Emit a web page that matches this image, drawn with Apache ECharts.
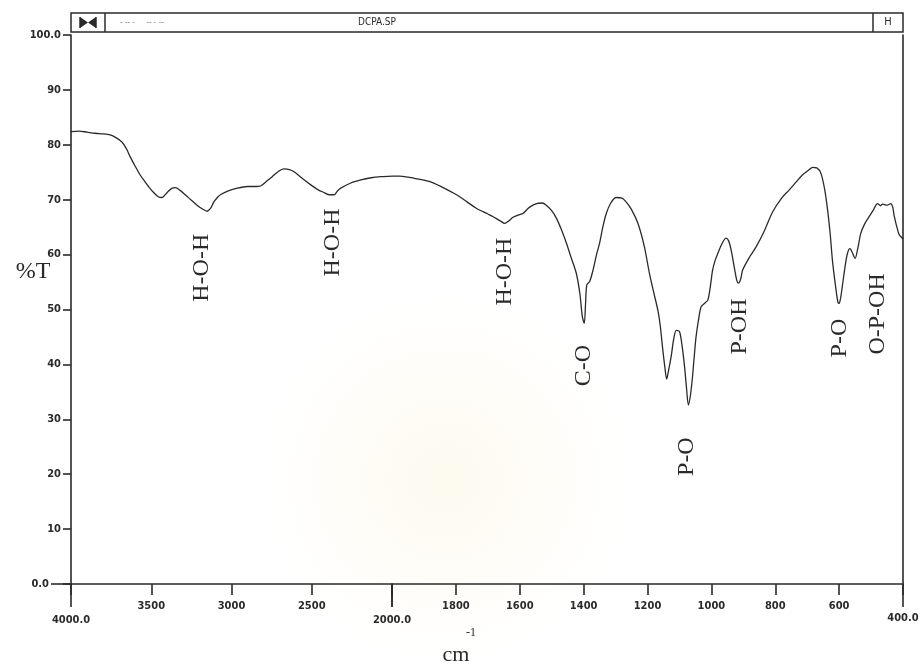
<!DOCTYPE html>
<html>
<head>
<meta charset="utf-8">
<title>DCPA.SP</title>
<script src="https://cdn.jsdelivr.net/npm/echarts@6/dist/echarts.min.js"></script>
<style>
  html, body { margin: 0; padding: 0; background: #ffffff; }
  #chart { width: 924px; height: 667px; }
</style>
</head>
<body>
<div id="chart"></div>
<script>
// IR transmission spectrum of DCPA, wavenumber (cm-1) vs %T
const wavenumbers = [
  4000, 3950, 3900, 3850, 3800, 3756, 3720, 3683, 3655, 3631, 3600, 3569, 3540, 3517, 3485,
  3454, 3435, 3423, 3395, 3370, 3350, 3320, 3288, 3250, 3215, 3180, 3152, 3131, 3110, 3085,
  3069, 3020, 2964, 2900, 2850, 2819, 2780, 2746, 2710, 2673, 2640, 2610, 2560, 2506, 2460,
  2423, 2390, 2360, 2340, 2319, 2260, 2194, 2130, 2069, 2000,
  1975, 1930, 1881, 1840, 1798, 1765, 1735, 1700, 1683, 1660, 1647, 1635, 1621, 1600, 1590,
  1570, 1548, 1530, 1517, 1500, 1485, 1470, 1454, 1440, 1423, 1412, 1404, 1398, 1394, 1390,
  1381, 1370, 1360, 1350, 1340, 1329, 1315, 1298, 1280, 1267, 1250, 1230, 1210, 1194, 1180,
  1167, 1160, 1152, 1145, 1140, 1135, 1126, 1118, 1110, 1100, 1092, 1084, 1078, 1072, 1066,
  1060, 1054, 1048, 1040, 1032, 1020, 1011, 1003, 996, 988, 980, 965, 954, 946, 938,
  928, 920, 915, 908, 902, 880, 860, 835, 808, 780, 756, 735, 715, 695, 683,
  670, 657, 645, 636, 628, 621, 612, 604, 600, 595, 590, 582, 574, 566, 558,
  550, 542, 532, 520, 506, 492, 480, 470, 464, 450, 438, 432, 428, 420, 412,
  407, 400
];
const transmittance = [
  82.4, 82.5, 82.3, 82.1, 82.0, 81.8, 81.3, 80.5, 79.3, 77.8, 76.1, 74.5, 73.3, 72.4, 71.3,
  70.5, 70.4, 70.6, 71.5, 72.1, 72.2, 71.7, 70.9, 69.9, 69.0, 68.3, 67.9, 68.4, 69.6, 70.5,
  70.9, 71.6, 72.1, 72.4, 72.4, 72.5, 73.4, 74.2, 75.1, 75.6, 75.5, 75.1, 73.9, 72.7, 71.8,
  71.3, 70.9, 70.9, 71.6, 72.1, 73.0, 73.6, 74.0, 74.2, 74.3,
  74.3, 73.9, 73.3, 72.2, 70.9, 69.6, 68.4, 67.4, 66.9, 66.1, 65.7, 66.1, 66.8, 67.3, 67.5,
  68.6, 69.3, 69.4, 69.0, 68.0, 66.6, 64.6, 62.1, 59.6, 56.6, 53.0, 48.7, 47.5, 51.0, 54.5,
  55.1, 57.3, 59.9, 62.1, 65.0, 67.5, 69.4, 70.4, 70.3, 69.6, 68.2, 65.7, 61.5, 56.6, 53.0,
  49.7, 47.0, 42.6, 39.2, 37.3, 38.6, 41.4, 44.6, 46.2, 46.0, 43.5, 39.6, 35.8, 32.6, 34.2,
  37.2, 41.2, 45.0, 48.2, 50.5, 51.2, 51.7, 54.3, 57.2, 59.0, 60.2, 62.2, 63.0, 62.5, 60.8,
  57.6, 55.2, 54.8, 55.6, 57.2, 59.6, 61.4, 64.2, 67.8, 70.3, 71.8, 73.2, 74.5, 75.4, 75.9,
  75.8, 74.8, 71.8, 68.1, 63.8, 59.0, 54.6, 51.4, 51.1, 52.2, 54.2, 57.6, 60.2, 61.1, 60.3,
  59.3, 61.0, 63.9, 65.6, 66.9, 68.2, 69.3, 68.9, 69.2, 69.0, 69.3, 68.6, 67.2, 65.2, 63.6,
  63.3, 62.8
];

// Band assignments: label text, wavenumber and %T of the label centre
const bandNames = ['H-O-H', 'H-O-H', 'H-O-H', 'C-O', 'P-O', 'P-OH', 'P-O', 'O-P-OH'];
const bandWavenumbers = [3188, 2371, 1647, 1400, 1077, 910, 598, 478];
const bandLabelT = [57.6, 62.2, 56.9, 39.8, 23.2, 46.9, 44.8, 49.2];

// Axis ticks: the abscissa changes scale at 2000 cm-1
const highRangeTicks = [2000, 4000];   // 4000 - 2000 section
const lowRangeTicks = [400, 2000];     // 2000 - 400 section
const highRangeStep = 500;
const lowRangeStep = 200;
const yTicks = [0, 100];
const yStep = 10;

const plotFont = "'DejaVu Sans Condensed', 'Liberation Sans Narrow', 'DejaVu Sans', sans-serif";
const serifFont = "'Liberation Serif', 'DejaVu Serif', serif";
const ink = '#2a2a2a';

const highData = [], lowData = [];
wavenumbers.forEach((w, i) => {
  if (w >= 2000) highData.push([w, transmittance[i]]);
  if (w <= 2000) lowData.push([w, transmittance[i]]);
});

const highMarks = [], lowMarks = [];
bandNames.forEach((n, i) => {
  const m = { name: n, coord: [bandWavenumbers[i], bandLabelT[i]] };
  (bandWavenumbers[i] >= 2000 ? highMarks : lowMarks).push(m);
});

const markStyle = {
  symbol: 'circle',
  symbolSize: 0,
  silent: true,
  label: {
    show: true,
    position: 'inside',
    rotate: 90,
    formatter: p => p.name,
    fontFamily: serifFont,
    fontSize: 24,
    color: ink
  }
};

const tickLabelStyle = { fontFamily: plotFont, fontWeight: 'bold', fontSize: 11, color: ink };
const lineStyle = { color: ink, width: 1.6 };

const chart = echarts.init(document.getElementById('chart'), null, { renderer: 'canvas' });

chart.setOption({
  backgroundColor: '#ffffff',
  animation: false,
  grid: [
    { left: 71, top: 35, width: 321, bottom: 83 },
    { left: 392, top: 35, width: 511, bottom: 83 }
  ],
  xAxis: [
    { // 4000-2000, short ticks
      type: 'value', gridIndex: 0, inverse: true,
      min: highRangeTicks[0], max: highRangeTicks[1], interval: highRangeStep,
      axisLine: { show: true, onZero: false, lineStyle },
      axisTick: { show: true, inside: false, length: 11, lineStyle },
      axisLabel: {
        ...tickLabelStyle, margin: 17,
        formatter: v => (v === highRangeTicks[0] || v === highRangeTicks[1]) ? '' : String(v)
      },
      splitLine: { show: false }
    },
    { // 4000-2000, long end ticks
      type: 'value', gridIndex: 0, inverse: true, position: 'bottom',
      min: highRangeTicks[0], max: highRangeTicks[1], interval: highRangeTicks[1] - highRangeTicks[0],
      axisLine: { show: false },
      axisTick: { show: true, length: 23, lineStyle },
      axisLabel: { ...tickLabelStyle, margin: 31, formatter: v => v.toFixed(1) },
      splitLine: { show: false }
    },
    { // 2000-400, short ticks
      type: 'value', gridIndex: 1, inverse: true,
      min: lowRangeTicks[0], max: lowRangeTicks[1], interval: lowRangeStep,
      axisLine: { show: true, onZero: false, lineStyle },
      axisTick: { show: true, length: 11, lineStyle },
      axisLabel: {
        ...tickLabelStyle, margin: 17,
        formatter: v => (v === lowRangeTicks[0] || v === lowRangeTicks[1]) ? '' : String(v)
      },
      splitLine: { show: false }
    },
    { // 2000-400, long end tick
      type: 'value', gridIndex: 1, inverse: true, position: 'bottom',
      min: lowRangeTicks[0], max: lowRangeTicks[1], interval: lowRangeTicks[1] - lowRangeTicks[0],
      axisLine: { show: false },
      axisTick: { show: true, length: 23, lineStyle },
      axisLabel: {
        ...tickLabelStyle, margin: 29,
        formatter: v => v === lowRangeTicks[0] ? v.toFixed(1) : ''
      },
      splitLine: { show: false }
    }
  ],
  yAxis: [
    {
      type: 'value', gridIndex: 0, position: 'left',
      min: yTicks[0], max: yTicks[1], interval: yStep,
      axisLine: { show: true, onZero: false, lineStyle },
      axisTick: { show: true, length: 8, lineStyle },
      axisLabel: {
        ...tickLabelStyle, margin: 10,
        formatter: v => v === yTicks[0] ? '' : (v === yTicks[1] ? v.toFixed(1) : String(v))
      },
      splitLine: { show: false }
    },
    {
      type: 'value', gridIndex: 0, position: 'left',
      min: yTicks[0], max: yTicks[1], interval: yTicks[1] - yTicks[0],
      axisLine: { show: false },
      axisTick: { show: true, length: 20, lineStyle, customValues: [yTicks[0]] },
      axisLabel: {
        ...tickLabelStyle, margin: 22, customValues: [yTicks[0]],
        formatter: v => v === yTicks[0] ? v.toFixed(1) : ''
      },
      splitLine: { show: false }
    },
    {
      type: 'value', gridIndex: 1, position: 'right',
      min: yTicks[0], max: yTicks[1], interval: yStep,
      axisLine: { show: true, onZero: false, lineStyle },
      axisTick: { show: false },
      axisLabel: { show: false },
      splitLine: { show: false }
    }
  ],
  series: [
    {
      type: 'line', xAxisIndex: 0, yAxisIndex: 0, data: highData,
      showSymbol: false, smooth: 0.3,
      lineStyle: { color: ink, width: 1.3 },
      markPoint: { ...markStyle, data: highMarks }
    },
    {
      type: 'line', xAxisIndex: 2, yAxisIndex: 2, data: lowData,
      showSymbol: false, smooth: 0.3,
      lineStyle: { color: ink, width: 1.3 },
      markPoint: { ...markStyle, data: lowMarks }
    }
  ],
  graphic: [
    // faint seal printed on the page behind the plot
    { type: 'circle', z: -10, silent: true, shape: { cx: 445, cy: 480, r: 210 },
      style: { fill: new echarts.graphic.RadialGradient(0.5, 0.5, 0.5, [
        { offset: 0, color: 'rgba(250,242,218,0.45)' },
        { offset: 0.55, color: 'rgba(252,247,230,0.25)' },
        { offset: 1, color: 'rgba(255,255,255,0)' }
      ]) } },
    // instrument header strip
    { type: 'rect', shape: { x: 71, y: 13, width: 832, height: 19 },
      style: { fill: '#ffffff', stroke: ink, lineWidth: 1.5 } },
    { type: 'line', shape: { x1: 105, y1: 13, x2: 105, y2: 32 }, style: { stroke: ink, lineWidth: 1.5 } },
    { type: 'line', shape: { x1: 873, y1: 13, x2: 873, y2: 32 }, style: { stroke: ink, lineWidth: 1.5 } },
    { type: 'polygon', shape: { points: [[80, 17], [88, 22.5], [80, 28]] }, style: { fill: ink } },
    { type: 'polygon', shape: { points: [[96, 17], [88, 22.5], [96, 28]] }, style: { fill: ink } },
    { type: 'line', shape: { x1: 80, y1: 17, x2: 80, y2: 28 }, style: { stroke: ink, lineWidth: 1.5 } },
    { type: 'line', shape: { x1: 96, y1: 17, x2: 96, y2: 28 }, style: { stroke: ink, lineWidth: 1.5 } },
    { type: 'text', x: 888, y: 22.5,
      style: { text: 'H', fontFamily: plotFont, fontSize: 11, fill: ink, align: 'center', verticalAlign: 'middle' } },
    { type: 'text', x: 120, y: 22.5,
      style: { text: '- -- -     -- - --', fontFamily: plotFont, fontSize: 8, fill: '#777', verticalAlign: 'middle' } },
    { type: 'text', x: 377, y: 22.5,
      style: { text: 'DCPA.SP', fontFamily: plotFont, fontSize: 10, fill: ink,
               align: 'center', verticalAlign: 'middle' } },
    // axis titles
    { type: 'text', x: 33, y: 272,
      style: { text: '%T', fontFamily: serifFont, fontSize: 24, fill: ink, align: 'center', verticalAlign: 'middle' } },
    { type: 'text', x: 456, y: 655,
      style: { text: 'cm', fontFamily: serifFont, fontSize: 22, fill: ink, align: 'center', verticalAlign: 'middle' } },
    { type: 'text', x: 471, y: 633,
      style: { text: '-1', fontFamily: serifFont, fontSize: 12, fill: ink, align: 'center', verticalAlign: 'middle' } }
  ]
});
</script>
</body>
</html>
